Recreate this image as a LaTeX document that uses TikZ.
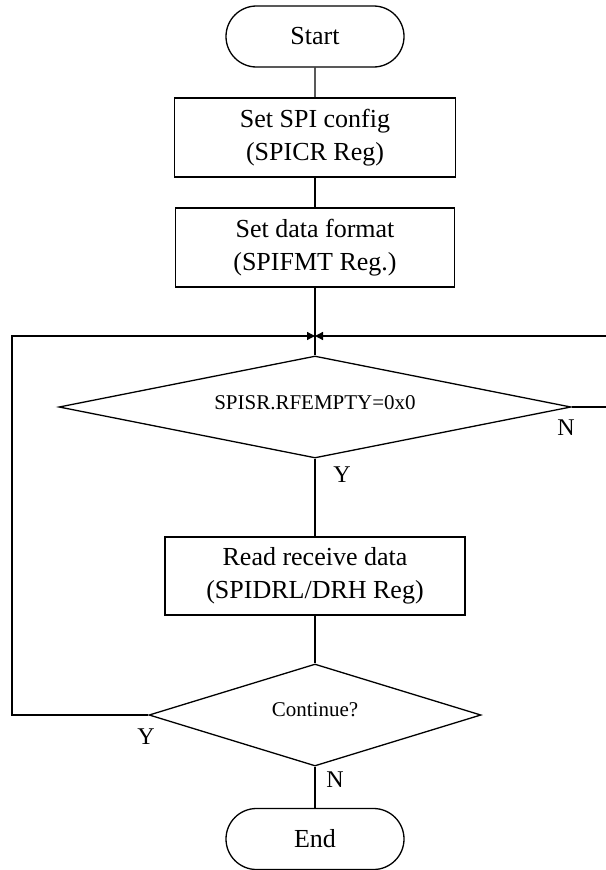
\documentclass[tikz,border=0pt]{standalone}
\usepackage{fontspec}
\setmainfont{Liberation Serif}
\usetikzlibrary{shapes.geometric,shapes.misc,arrows.meta}
\begin{document}
\begin{tikzpicture}[x=1pt,y=-1pt,
  line width=1.3pt,
  term/.style={draw,rounded rectangle,minimum width=178pt,minimum height=61pt,inner sep=0pt,font=\fontsize{26}{33}\selectfont},
  proc/.style={draw,rectangle,minimum height=79pt,inner sep=0pt,align=center,font=\fontsize{26}{33}\selectfont},
  dec/.style={draw,diamond,aspect=5,inner sep=0pt,font=\fontsize{21}{25}\selectfont},
  yn/.style={font=\fontsize{24}{28}\selectfont,inner sep=0pt},
  arr/.style={-{Triangle[length=8pt,width=8pt]}}
]
\useasboundingbox (0,0) rectangle (605,870);
\node[term] (start) at (315,36.5) {Start};
\node[proc,minimum width=281pt] (cfg) at (315,137.5) {Set SPI config\\(SPICR Reg)};
\node[proc,minimum width=279pt] (fmt) at (315,247.5) {Set data format\\(SPIFMT Reg.)};
\node[dec,minimum width=512pt,minimum height=102pt] (chk) at (315,407) {\raisebox{9pt}{SPISR.RFEMPTY=0x0}};
\node[proc,minimum width=300pt,minimum height=78pt] (rd) at (315,576) {Read receive data\\(SPIDRL/DRH Reg)};
\node[dec,minimum width=332pt,minimum height=102pt] (cont) at (315,715) {\raisebox{10pt}{Continue?}};
\node[term] (end) at (315,839) {End};
\coordinate (m) at (315,336);
\coordinate (lft) at (12,0);
\coordinate (rgt) at (616,0);
\draw (start) -- (cfg);
\draw (cfg) -- (fmt);
\draw (fmt) -- (chk);
\draw (chk) -- (rd);
\draw (rd) -- (cont);
\draw (cont) -- (end);
\draw[arr] (cont.west) -- (lft |- cont.west) -- (lft |- m) -- (m);
\draw[arr] (chk.east) -- (rgt |- chk.east) -- (rgt |- m) -- (m);
\node[yn] (y1) at (342,475) {Y};
\node[yn] (n1) at (566,428) {N};
\node[yn] (y2) at (146,737) {Y};
\node[yn] (n2) at (335,780) {N};
\end{tikzpicture}
\end{document}
